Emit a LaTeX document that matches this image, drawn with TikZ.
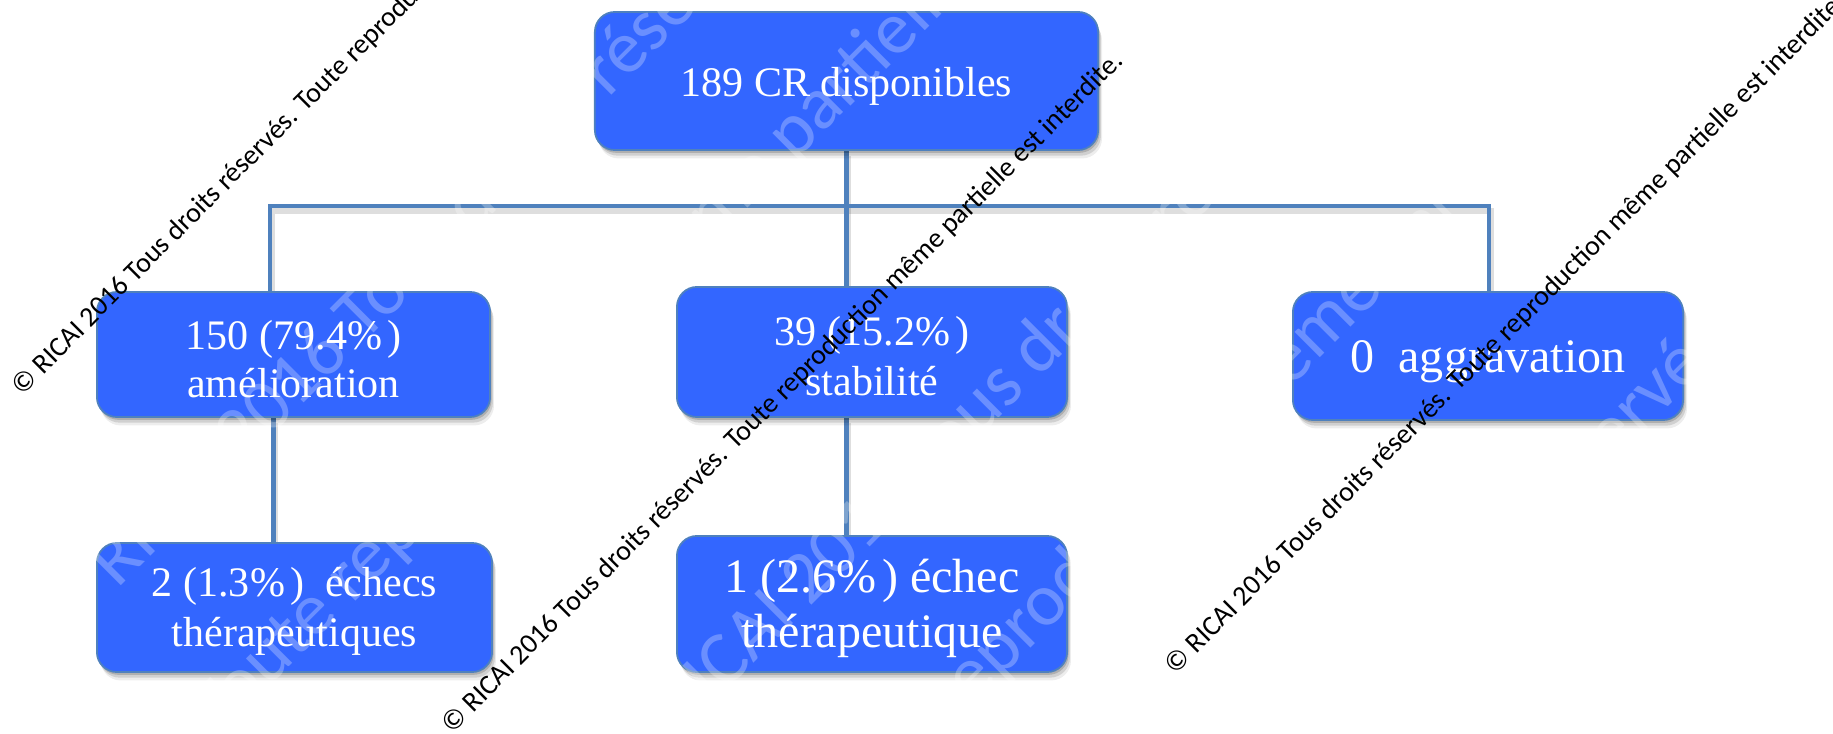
\documentclass[tikz,border=0pt]{standalone}
\usepackage{fontspec}
\setmainfont{Liberation Serif}
\newfontfamily\wmfont{Carlito}
\usetikzlibrary{shadows,calc,backgrounds}
\definecolor{boxblue}{RGB}{51,102,255}
\definecolor{edgeblue}{RGB}{79,129,189}
\definecolor{lineblue}{RGB}{79,129,189}
\begin{document}
\begin{tikzpicture}[x=0.01cm,y=-0.01cm,
  box/.style={rectangle, rounded corners=0.2cm, fill=boxblue, draw=edgeblue, line width=0.5pt,
    inner sep=0pt,
    drop shadow={shadow xshift=0.4pt, shadow yshift=-0.8pt, opacity=0.16, fill=black},
    drop shadow={shadow xshift=0.8pt, shadow yshift=-1.6pt, opacity=0.12, fill=black},
    drop shadow={shadow xshift=1.1pt, shadow yshift=-2.4pt, opacity=0.07, fill=black}},
  boxtext/.style={text=white, align=center, inner sep=0pt},
  fa/.style={font={\fontsize{11.95}{13.66}\selectfont}},
  fb/.style={font={\fontsize{11.95}{14.2}\selectfont}},
  fc/.style={font={\fontsize{13.66}{15.65}\selectfont}},
  conn/.style={draw=lineblue, line width=1.3pt},
  connshadow/.style={draw=black, opacity=0.13, line width=1.7pt},
  wmark/.style={font={\wmfont\fontsize{7.97}{9}\selectfont}, text=black, rotate=45, anchor=west, inner sep=0pt},
  wwhite/.style={font={\wmfont\fontsize{21.3}{24}\selectfont}, text=white, text opacity=0.27, rotate=45, anchor=base west, inner sep=0pt}
]
\useasboundingbox (0,0) rectangle (1833,734);
\clip (0,0) rectangle (1833,734);

% boxes
\node[box, minimum width=5.03cm, minimum height=1.38cm] (top) at (846.5,81) {};
\node[box, minimum width=3.93cm, minimum height=1.25cm] (b150) at (293.5,354.5) {};
\node[box, minimum width=3.90cm, minimum height=1.30cm] (mid) at (872,352) {};
\node[box, minimum width=3.90cm, minimum height=1.28cm] (aggr) at (1488,356) {};
\node[box, minimum width=3.95cm, minimum height=1.29cm] (bl) at (294.5,607.5) {};
\node[box, minimum width=3.90cm, minimum height=1.36cm] (bm) at (872,604) {};

% box texts
\node[boxtext, fa] (ttop) at ($(top)+(0,5)$) {189 CR disponibles};
\node[boxtext, fa] (t150) at ($(b150)+(0,5)$) {150 (79.4\%\kern0.12em)\\am\'elioration};
\node[boxtext, fb] (tmid) at ($(mid)+(0,4)$) {39 (15.2\%\kern0.12em)\\stabilit\'e};
\node[boxtext, fc] (taggr) at ($(aggr)+(0,6)$) {0\ \ aggravation};
\node[boxtext, fb] (tbl) at ($(bl)+(0,4)$) {2 (1.3\%\kern0.12em)\ \ \'echecs\\th\'erapeutiques};
\node[boxtext, fc] (tbm) at ($(bm)+(0,4)$) {1 (2.6\%\kern0.12em) \'echec\\th\'erapeutique};

% connectors
\coordinate (jl) at (270,206);
\coordinate (jr) at (1489,206);
\coordinate (jc) at (top.south |- jl);
\begin{pgfonlayer}{background}
\begin{scope}[transform canvas={xshift=0.5pt, yshift=-1.4pt}]
  \draw[connshadow] (top.south) -- (jc |- mid.north);
  \draw[connshadow] (jl |- b150.north) -- (jl) -- (jr) -- (jr |- aggr.north);
  \draw[connshadow] ($(b150.south)+(-20,0)$) -- ($(bl.north)+(-21,0)$);
  \draw[connshadow] (jc |- mid.south) -- (jc |- bm.north);
\end{scope}
  \draw[conn] (top.south) -- (jc) -- (jc |- mid.north);
  \draw[conn] (jl |- b150.north) -- (jl) -- (jr) -- (jr |- aggr.north);
  \draw[conn] ($(b150.south)+(-20,0)$) -- ($(bl.north)+(-21,0)$);
  \draw[conn] (jc |- mid.south) -- (jc |- bm.north);
\end{pgfonlayer}

% faint white watermark
\node[wwhite] (ww1) at (60.8,646.3) {\textcopyright{} RICAI 2016 Tous droits r\'eserv\'es.};
\node[wwhite] (ww2) at (219.2,737.2) {Toute reproduction m\^eme partielle est interdite.};
\node[wwhite] (ww3) at (627,790) {\textcopyright{} RICAI 2016 Tous droits r\'eserv\'es.};
\node[wwhite] (ww4) at (822.3,856.2) {Toute reproduction m\^eme partielle est interdite.};
\node[wwhite] (ww5) at (1001,1074.7) {\textcopyright{} RICAI 2016 Tous droits r\'eserv\'es.};

% black watermark
\node[wmark] (wm1) at (16.5,391.5) {\textcopyright{} RICAI 2016 Tous droits r\'eserv\'es. Toute reproduction m\^eme partielle est interdite.};
\node[wmark] (wm2) at (446.5,729.5) {\textcopyright{} RICAI 2016 Tous droits r\'eserv\'es. Toute reproduction m\^eme partielle est interdite.};
\node[wmark] (wm3) at (1169.5,670.5) {\textcopyright{} RICAI 2016 Tous droits r\'eserv\'es. Toute reproduction m\^eme partielle est interdite.};
\end{tikzpicture}
\end{document}
